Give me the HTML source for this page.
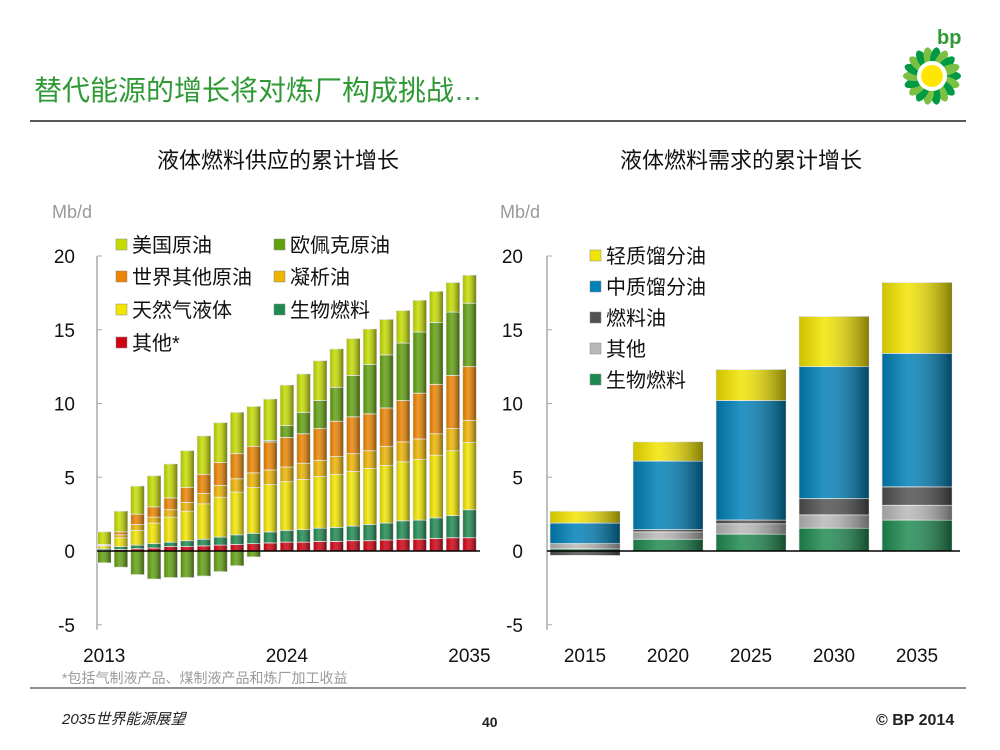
<!DOCTYPE html>
<html><head><meta charset="utf-8"><style>
body{margin:0;background:#fff;}
#wrap{position:relative;width:1000px;height:750px;overflow:hidden;font-family:"Liberation Sans","Noto Sans CJK SC",sans-serif;}
.t{position:absolute;white-space:nowrap;}
</style></head><body>
<div id="wrap">
<div class="t" style="left:34px;top:69px;font-size:28px;color:#2f9a35;">替代能源的增长将对炼厂构成挑战…</div>
<div class="t" style="left:157px;top:143px;font-size:22px;color:#111;">液体燃料供应的累计增长</div>
<div class="t" style="left:620px;top:143px;font-size:22px;color:#111;">液体燃料需求的累计增长</div>
<div class="t" style="left:62px;top:668px;font-size:14px;color:#999;">*包括气制液产品、煤制液产品和炼厂加工收益</div>
<div class="t" style="left:62px;top:708px;font-size:15px;font-style:italic;color:#222;">2035世界能源展望</div>
<div class="t" style="left:482px;top:714px;font-size:14px;font-weight:bold;color:#222;">40</div>
<div class="t" style="left:876px;top:712px;font-size:16px;font-weight:bold;color:#222;">© BP 2014</div>
<svg id="svg" width="1000" height="750" style="position:absolute;left:0;top:0">
<defs id="defs"></defs>
<line x1="30" y1="121" x2="966" y2="121" stroke="#222" stroke-width="1.5"/>
<line x1="30" y1="688" x2="966" y2="688" stroke="#222" stroke-width="1"/>
<g id="logo"></g>
<text x="937" y="44" font-size="20" font-weight="bold" fill="#2f9a35" font-family="Liberation Sans">bp</text>
<g id="left"></g><g id="right"></g>
</svg>
</div>
<script>
// Left chart data (Mb/d)
const leftYears = ["2013","2024","2035"];
const leftOther = [0.05,0.1,0.15,0.2,0.3,0.3,0.35,0.4,0.45,0.5,0.55,0.6,0.6,0.65,0.65,0.7,0.7,0.75,0.8,0.8,0.85,0.9,0.9];
const leftBio   = [0.1,0.2,0.25,0.3,0.3,0.4,0.45,0.55,0.65,0.7,0.75,0.8,0.85,0.9,0.95,1.0,1.1,1.15,1.25,1.3,1.4,1.5,1.9];
const leftNGL   = [0.2,0.6,1.0,1.4,1.7,2.0,2.4,2.7,2.9,3.1,3.2,3.3,3.4,3.5,3.6,3.7,3.8,3.9,4.0,4.1,4.25,4.4,4.55];
const leftCond  = [0.05,0.2,0.4,0.4,0.5,0.6,0.7,0.8,0.9,1.0,1.0,1.0,1.1,1.1,1.2,1.2,1.2,1.3,1.35,1.4,1.45,1.5,1.5];
const leftROW   = [0.05,0.2,0.7,0.7,0.8,1.0,1.3,1.55,1.7,1.8,1.9,2.0,2.0,2.15,2.4,2.5,2.5,2.6,2.8,3.1,3.35,3.6,3.65];
const leftOPEC  = [0,0,0,0,0,0,0,0,0,0,0.1,0.8,1.45,1.9,2.3,2.8,3.35,3.6,3.9,4.15,4.2,4.3,4.3];
const leftOPECNeg = [-0.8,-1.1,-1.6,-1.9,-1.8,-1.8,-1.7,-1.4,-1.0,-0.4,0,0,0,0,0,0,0,0,0,0,0,0,0];
const leftUS    = [0.85,1.4,1.9,2.1,2.3,2.5,2.6,2.7,2.8,2.7,2.8,2.75,2.6,2.7,2.6,2.5,2.4,2.4,2.2,2.15,2.1,2.0,1.9];
// Right chart data
const rightYears = ["2015","2020","2025","2030","2035"];
const rightBio = [0.15,0.8,1.15,1.55,2.1];
const rightOther = [0.35,0.5,0.7,0.9,1.0];
const rightFuel = [-0.3,0.15,0.25,1.1,1.25];
const rightMid = [1.4,4.65,8.1,8.95,9.05];
const rightLight = [0.8,1.3,2.1,3.4,4.8];
const yTicks = ["20","15","10","5","0","-5"];
const yTickVals = [20,15,10,5,0,-5];

const NS="http://www.w3.org/2000/svg";
const defs=document.getElementById('defs');
function mk(tag,attrs,parent){const e=document.createElementNS(NS,tag);for(const k in attrs)e.setAttribute(k,attrs[k]);parent.appendChild(e);return e;}
const colors={us:"#c4dc00",opec:"#62a010",row:"#ec8400",cond:"#eeb400",ngl:"#f2e600",bio:"#1f8a50",other:"#d00010",mid:"#0080b8",fuel:"#505050",gray:"#b8b8b8",light:"#f2e400"};
const shade=mk('linearGradient',{id:'shade',x1:'0',x2:'1',y1:'0',y2:'0'},defs);
mk('stop',{offset:'0','stop-color':'#000','stop-opacity':'0.15'},shade);
mk('stop',{offset:'0.35','stop-color':'#fff','stop-opacity':'0.15'},shade);
mk('stop',{offset:'1','stop-color':'#000','stop-opacity':'0.45'},shade);

const y0=551, ppu=14.75;
function yS(v){return y0 - v*ppu;}

function axis(g,x,labX,name){
  const ax=mk('line',{x1:x,y1:yS(20),x2:x,y2:yS(-5)+5,stroke:'#aaa','stroke-width':1.5},g);
  
  
  yTickVals.forEach((v,i)=>{
    const tk=mk('line',{x1:x,y1:yS(v),x2:x+5,y2:yS(v),stroke:'#aaa'},g);
    
    
    const t=mk('text',{x:labX,y:yS(v)+7,'font-size':19,'text-anchor':'end',fill:'#111','font-family':'Liberation Sans'},g);
    t.textContent=yTicks[i];
    
    
  });
}
function seg(g,x,w,a,b,key,name){
  if(Math.abs(b-a)<0.001)return;
  const top=yS(Math.max(a,b)),h=Math.abs(yS(a)-yS(b));
  const r=mk('rect',{x:x,y:top,width:w,height:h,fill:colors[key],stroke:'#eee','stroke-width':0.8},g);
  
  
  const s=mk('rect',{x:x,y:top,width:w,height:h,fill:'url(#shade)'},g);
  
  
}
const L=document.getElementById('left');


axis(L,97,75,'supply');
const lx0=97.5,lstep=16.6,lw=13.5;
const layers=[['other',leftOther],['bio',leftBio],['ngl',leftNGL],['cond',leftCond],['row',leftROW],['opec',leftOPEC],['us',leftUS]];
leftOther.forEach((_,i)=>{
  const x=lx0+i*lstep;let acc=0;
  layers.forEach(([k,arr])=>{seg(L,x,lw,acc,acc+arr[i],k,'supply-bar-'+k);acc+=arr[i];});
  seg(L,x,lw,0,leftOPECNeg[i],'opec','supply-bar-opec-negative');
});
const zl=mk('line',{x1:97,y1:y0,x2:480,y2:y0,stroke:'#000','stroke-width':1.5},L);

[0,11,22].forEach((idx,j)=>{
  const t=mk('text',{x:lx0+idx*lstep+lw/2,y:662,'font-size':19,'text-anchor':'middle',fill:'#111','font-family':'Liberation Sans'},L);
  t.textContent=leftYears[j];
  
});
const lLeg=[['us','美国原油',116,245],['opec','欧佩克原油',274,245],['row','世界其他原油',116,277],['cond','凝析油',274,277],['ngl','天然气液体',116,310],['bio','生物燃料',274,310],['other','其他*',116,343]];
function legend(g,items,name){
  items.forEach(([k,lab,x,y])=>{
    const r=mk('rect',{x:x,y:y-6,width:11,height:11,fill:colors[k],stroke:'#888','stroke-width':0.5},g);
    
    const t=mk('text',{x:x+16,y:y+7,'font-size':20,fill:'#111','font-family':'Liberation Sans, Noto Sans CJK SC'},g);
    t.textContent=lab;
    
  });
}
legend(L,lLeg,'supply-legend');
const mb1=mk('text',{x:52,y:218,'font-size':18,fill:'#999','font-family':'Liberation Sans'},L);mb1.textContent='Mb/d';

const R=document.getElementById('right');


axis(R,547,523,'demand');
const rx0=550,rstep=83,rw=70;
rightYears.forEach((yr,i)=>{
  const x=rx0+i*rstep;let acc=0;
  seg(R,x,rw,0,rightBio[i],'bio','demand-bar-biofuel');acc=rightBio[i];
  seg(R,x,rw,acc,acc+rightOther[i],'gray','demand-bar-other');acc+=rightOther[i];
  if(rightFuel[i]<0){seg(R,x,rw,0,rightFuel[i],'fuel','demand-bar-fuel-oil');}
  else{seg(R,x,rw,acc,acc+rightFuel[i],'fuel','demand-bar-fuel-oil');acc+=rightFuel[i];}
  seg(R,x,rw,acc,acc+rightMid[i],'mid','demand-bar-middle-distillates');acc+=rightMid[i];
  seg(R,x,rw,acc,acc+rightLight[i],'light','demand-bar-light-distillates');
  const t=mk('text',{x:x+rw/2,y:662,'font-size':19,'text-anchor':'middle',fill:'#111','font-family':'Liberation Sans'},R);
  t.textContent=yr;
  
});
const zr=mk('line',{x1:547,y1:y0,x2:960,y2:y0,stroke:'#000','stroke-width':1.5},R);

legend(R,[['light','轻质馏分油',590,256],['mid','中质馏分油',590,287],['fuel','燃料油',590,318],['gray','其他',590,349],['bio','生物燃料',590,380]],'demand-legend');
const mb2=mk('text',{x:500,y:218,'font-size':18,fill:'#999','font-family':'Liberation Sans'},R);mb2.textContent='Mb/d';

const G=document.getElementById('logo');
for(let i=0;i<18;i++){
  const a=i*Math.PI*2/18;
  const p=mk('ellipse',{cx:932+Math.cos(a)*18,cy:76+Math.sin(a)*18,rx:11,ry:5,fill:i%2?'#7ac143':'#009a44',transform:`rotate(${a*180/Math.PI} ${932+Math.cos(a)*18} ${76+Math.sin(a)*18})`},G);
  
}
const c1=mk('circle',{cx:932,cy:76,r:15,fill:'#fff'},G);
const c2=mk('circle',{cx:932,cy:76,r:11,fill:'#ffe600'},G);
</script>
</body></html>
